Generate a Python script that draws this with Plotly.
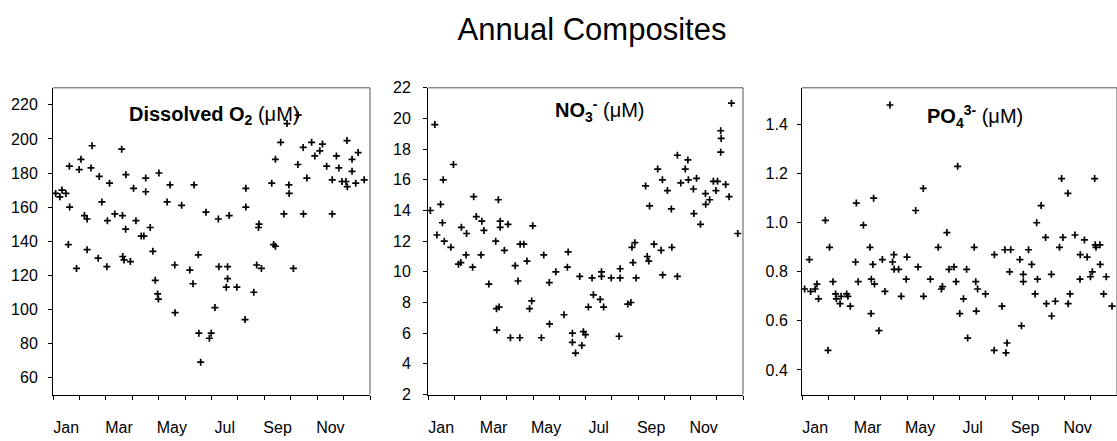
import plotly.graph_objects as go

# ---- data (x = month of year, 0 = 1 Jan, 12 = 31 Dec) ----
o2_month = [0.10, 0.26, 0.34, 0.49, 0.58, 0.62, 0.63, 0.89, 0.99, 1.06, 1.19, 1.29, 1.29, 1.44, 1.48,
            1.71, 1.75, 1.85, 2.04, 2.06, 2.14, 2.34, 2.60, 2.63, 2.64, 2.69, 2.75, 2.76, 2.93, 3.05,
            3.14, 3.34, 3.44, 3.51, 3.51, 3.68, 3.78, 3.87, 3.96, 3.99, 4.01, 4.32, 4.43, 4.61, 4.62,
            4.87, 5.18, 5.30, 5.34, 5.50, 5.52, 5.59, 5.79, 5.92, 5.99, 6.13, 6.26, 6.28, 6.56, 6.61,
            6.61, 6.67, 6.96, 7.27, 7.30, 7.30, 7.60, 7.71, 7.78, 7.80, 7.89, 8.28, 8.35, 8.42, 8.42,
            8.62, 8.74, 8.86, 8.93, 8.94, 9.10, 9.27, 9.28, 9.47, 9.48, 9.61, 9.79, 9.91, 10.10, 10.20,
            10.36, 10.57, 10.57, 10.73, 10.82, 10.94, 11.09, 11.14, 11.13, 11.32, 11.32, 11.46, 11.55, 11.78]
o2_value = [168, 166, 170, 168, 138, 184, 160, 124, 182, 188, 155, 153, 135, 183, 196,
            130, 178, 163, 125, 152, 174, 156, 194, 155, 131, 129, 147, 179, 128, 171,
            152, 143, 143, 177, 169, 148, 134, 117, 109, 106, 180, 163, 173, 126, 98,
            161, 123, 115, 173, 132, 86, 69, 157, 83, 86, 101, 153, 125, 113, 125,
            118, 155, 113, 94, 171, 160, 110, 126, 148, 150, 124, 174, 138, 188, 137,
            198, 156, 209, 173, 168, 124, 185, 214, 195, 156, 177, 198, 190, 193, 197,
            184, 176, 156, 190, 183, 175, 175, 172, 199, 188, 181, 174, 192, 176]

no3_month = [0.09, 0.26, 0.34, 0.48, 0.55, 0.58, 0.62, 0.87, 0.97, 1.16, 1.25, 1.27, 1.45, 1.47, 1.70,
             1.74, 1.84, 2.02, 2.05, 2.13, 2.32, 2.58, 2.61, 2.62, 2.68, 2.71, 2.75, 2.75, 2.91, 3.05,
             3.14, 3.32, 3.43, 3.50, 3.51, 3.65, 3.77, 3.87, 3.95, 3.99, 4.32, 4.41, 4.62, 4.63, 4.87,
             5.18, 5.31, 5.34, 5.50, 5.50, 5.62, 5.78, 5.86, 5.92, 6.00, 6.11, 6.25, 6.30, 6.56, 6.61,
             6.61, 6.69, 6.98, 7.28, 7.32, 7.32, 7.61, 7.73, 7.77, 7.81, 7.88, 7.93, 8.29, 8.35, 8.41,
             8.44, 8.61, 8.75, 8.88, 8.93, 8.94, 9.12, 9.27, 9.29, 9.50, 9.50, 9.63, 9.80, 9.90, 9.92,
             10.11, 10.13, 10.23, 10.38, 10.57, 10.58, 10.73, 10.87, 10.97, 11.03, 11.15, 11.15, 11.17,
             11.34, 11.47, 11.56, 11.80]
no3_value = [14.0, 19.6, 12.4, 14.4, 13.2, 16.0, 12.0, 11.6, 17.0, 10.5, 10.6, 12.9, 11.1, 12.5, 10.3,
             14.9, 13.6, 11.1, 13.3, 12.7, 9.2, 12.0, 7.6, 6.2, 14.7, 7.7, 13.3, 12.9, 11.4, 13.1,
             5.7, 10.4, 9.4, 5.7, 11.8, 11.8, 10.7, 7.6, 8.1, 13.0, 5.7, 11.1, 9.3, 6.6, 10.0,
             7.2, 10.3, 11.3, 6.0, 5.4, 4.7, 9.7, 5.2, 6.1, 5.9, 7.7, 9.6, 8.5, 8.2, 10.0,
             9.7, 7.7, 9.6, 5.8, 10.2, 9.6, 7.9, 8.0, 11.6, 10.6, 11.9, 9.6, 15.6, 11.0, 10.7,
             14.3, 11.8, 16.7, 11.4, 16.0, 9.8, 15.3, 14.1, 11.6, 17.6, 9.7, 15.8, 16.7, 17.3, 16.0,
             15.4, 13.8, 16.1, 13.1, 15.1, 14.4, 14.7, 15.9, 15.3, 15.9, 19.2, 17.8, 18.7,
             15.7, 14.9, 21.0, 12.5]

po4_month = [0.10, 0.28, 0.33, 0.50, 0.57, 0.63, 0.89, 0.99, 1.05, 1.18, 1.28, 1.31, 1.45, 1.49, 1.70,
             1.75, 1.84, 2.04, 2.07, 2.14, 2.34, 2.59, 2.63, 2.64, 2.70, 2.73, 2.76, 2.93, 3.06, 3.16,
             3.35, 3.45, 3.50, 3.51, 3.68, 3.78, 3.97, 4.00, 4.33, 4.42, 4.62, 4.63, 4.89, 5.19, 5.31,
             5.35, 5.52, 5.60, 5.79, 5.87, 5.93, 6.01, 6.15, 6.27, 6.31, 6.56, 6.62, 6.64, 6.69, 6.99,
             7.32, 7.33, 7.62, 7.73, 7.81, 7.77, 7.91, 7.95, 8.30, 8.36, 8.43, 8.43, 8.63, 8.75, 8.88,
             8.94, 8.97, 9.11, 9.28, 9.31, 9.50, 9.51, 9.65, 9.81, 9.89, 9.94, 10.13, 10.14, 10.21, 10.40,
             10.59, 10.60, 10.76, 10.86, 10.99, 11.06, 11.15, 11.17, 11.20, 11.35, 11.36, 11.49, 11.59, 11.81]
po4_value = [0.73, 0.85, 0.72, 0.73, 0.75, 0.69, 1.01, 0.48, 0.90, 0.76, 0.71, 0.69, 0.67, 0.70, 0.71,
             0.70, 0.66, 0.84, 1.08, 0.76, 0.99, 0.90, 0.63, 0.77, 0.83, 1.10, 0.75, 0.56, 0.85, 0.72,
             1.48, 0.84, 0.87, 0.81, 0.81, 0.70, 0.77, 0.86, 1.05, 0.82, 1.14, 0.70, 0.77, 0.90, 0.73,
             0.74, 0.96, 0.81, 0.82, 0.76, 1.23, 0.63, 0.69, 0.81, 0.53, 0.90, 0.76, 0.64, 0.73, 0.71,
             0.48, 0.87, 0.66, 0.89, 0.51, 0.47, 0.80, 0.89, 0.85, 0.58, 0.79, 0.76, 0.89, 0.83, 0.71,
             1.00, 0.77, 1.07, 0.94, 0.67, 0.79, 0.62, 0.68, 0.90, 1.18, 0.94, 1.12, 0.67, 0.71, 0.95,
             0.77, 0.87, 0.93, 0.86, 0.78, 0.80, 1.18, 0.91, 0.90, 0.91, 0.83, 0.71, 0.78, 0.66]

month_ticks = [0.5, 2.5, 4.5, 6.5, 8.5, 10.5]
month_labels = ["Jan", "Mar", "May", "Jul", "Sep", "Nov"]

panel_titles = ["<b>Dissolved O<sub>2</sub></b> (μM)",
                "<b>NO<sub>3</sub><sup>-</sup></b> (μM)",
                "<b>PO<sub>4</sub><sup>3-</sup></b> (μM)"]
main_title = "Annual Composites"

FONT = "Liberation Sans, Arial, sans-serif"
W, H = 1117, 441

# pixel layout of the panels
x_px = [(53, 370), (428, 743), (802, 1117)]
y_px = (83, 402)
ydom = [1 - y_px[1] / H, 1 - y_px[0] / H]

fig = go.Figure()
series = [(o2_month, o2_value), (no3_month, no3_value), (po4_month, po4_value)]
for i, (mx, vy) in enumerate(series):
    fig.add_trace(go.Scatter(
        x=mx, y=vy, mode="markers",
        xaxis="x" if i == 0 else f"x{i+1}",
        yaxis="y" if i == 0 else f"y{i+1}",
        marker=dict(symbol="cross-thin", size=5, line=dict(width=1.7, color="black"), color="black"),
        showlegend=False, hoverinfo="x+y", cliponaxis=False))

yranges = [[50, 230], [2, 22], [0.3, 1.55]]
ytickvals = [list(range(60, 221, 20)), list(range(2, 23, 2)), [0.4, 0.6, 0.8, 1.0, 1.2, 1.4]]
ytickfmt = ["d", "d", ".1f"]
ystandoff = [7, 9, 6]

layout = dict(
    width=W, height=H, margin=dict(l=0, r=0, t=0, b=0),
    paper_bgcolor="white", plot_bgcolor="white", showlegend=False,
    font=dict(family=FONT, color="black", size=16),
    title=dict(text=main_title, x=592 / W, xanchor="center", y=1 - 29 / H, yanchor="middle",
               font=dict(family=FONT, size=31, color="black")),
)
title_pos = [(214, 112), (600, 107), (975, 113)]
title_size = [20, 20, 20]
annotations = []
shapes = []
for i in range(3):
    sx = "" if i == 0 else str(i + 1)
    layout[f"xaxis{sx}"] = dict(
        domain=[x_px[i][0] / W, x_px[i][1] / W], range=[0, 12], anchor=f"y{sx}",
        showgrid=False, zeroline=False, showline=True, linecolor="black", linewidth=1,
        tickmode="array", tickvals=month_ticks, ticktext=month_labels,
        ticks="outside", ticklen=0, tickfont=dict(size=16, family=FONT),
        ticklabelstandoff=18,
        minor=dict(ticks="outside", tick0=0, dtick=1, ticklen=4, tickcolor="black", tickwidth=1,
                   showgrid=False),
        fixedrange=True)
    layout[f"yaxis{sx}"] = dict(
        domain=ydom, range=yranges[i], anchor=f"x{sx}",
        showgrid=False, zeroline=False, showline=True, linecolor="black", linewidth=1,
        tickmode="array", tickvals=ytickvals[i], tickformat=ytickfmt[i],
        ticks="outside", ticklen=4, tickcolor="black", tickfont=dict(size=16, family=FONT),
        ticklabelstandoff=ystandoff[i],
        fixedrange=True)
    xr = "x" + sx
    yr = "y" + sx
    # grey frame on top and right
    shapes.append(dict(type="line", xref=f"{xr} domain", yref=f"{yr} domain",
                       x0=0, x1=1, y0=1, y1=1, line=dict(color="#555555", width=1)))
    shapes.append(dict(type="line", xref=f"{xr} domain", yref=f"{yr} domain",
                       x0=1, x1=1, y0=0, y1=1, line=dict(color="#555555", width=1)))
    annotations.append(dict(text=panel_titles[i], x=title_pos[i][0] / W, y=1 - title_pos[i][1] / H,
                            xref="paper", yref="paper", xanchor="center", yanchor="middle",
                            showarrow=False, font=dict(family=FONT, size=title_size[i], color="black")))
layout["annotations"] = annotations
layout["shapes"] = shapes
fig.update_layout(**layout)

fig.write_html("out.html", config={"displayModeBar": False},
               post_script="document.body.style.margin='0px';")
